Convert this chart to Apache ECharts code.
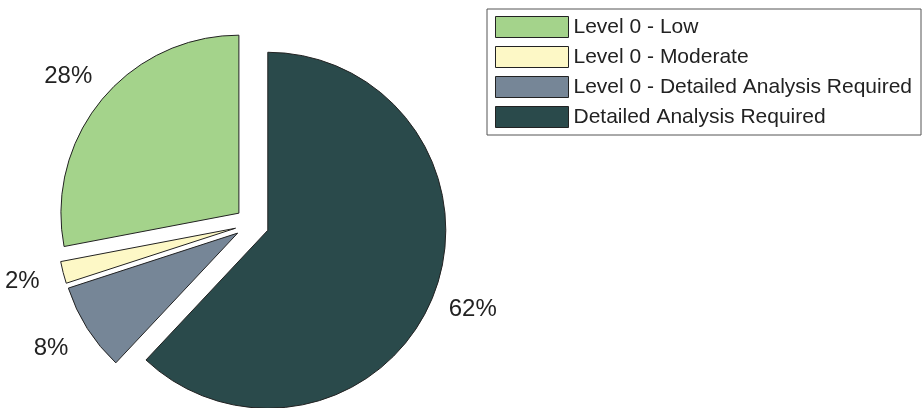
<!DOCTYPE html>
<html>
<head>
<meta charset="utf-8">
<script src="https://cdn.jsdelivr.net/npm/echarts@6/dist/echarts.min.js"></script>
<style>
html,body{margin:0;padding:0;background:#fff;}
#chart{width:922px;height:408px;}
</style>
</head>
<body>
<div id="chart"></div>
<script>
// Slices in clockwise order starting at 12 o'clock
const categories = ['Detailed Analysis Required', 'Level 0 - Detailed Analysis Required', 'Level 0 - Moderate', 'Level 0 - Low'];
const values = [62, 8, 2, 28];
const colors = ['#2a4a4b', '#768697', '#fdf8c6', '#a4d38b'];
const legendOrder = ['Level 0 - Low', 'Level 0 - Moderate', 'Level 0 - Detailed Analysis Required', 'Detailed Analysis Required'];

const chart = echarts.init(document.getElementById('chart'), null, {renderer: 'canvas'});
const data = categories.map((c, i) => ({
  name: c,
  value: values[i],
  selected: true,
  itemStyle: {color: colors[i]}
}));
chart.setOption({
  animation: false,
  textStyle: {fontFamily: 'Liberation Sans, Arial, sans-serif'},
  legend: {
    data: legendOrder,
    orient: 'vertical',
    left: 487,
    top: 9,
    padding: [7, 9, 7, 8],
    itemWidth: 73,
    itemHeight: 21,
    itemGap: 8,
    icon: 'rect',
    borderColor: '#555',
    borderWidth: 1,
    selectedMode: false,
    itemStyle: {borderColor: '#222', borderWidth: 1},
    textStyle: {fontSize: 21, color: '#222', padding: [0, 0, 0, 0]}
  },
  series: [{
    type: 'pie',
    center: [252, 224],
    radius: 178,
    startAngle: 90,
    clockwise: true,
    selectedMode: 'multiple',
    selectedOffset: 17,
    avoidLabelOverlap: false,
    itemStyle: {borderColor: '#222', borderWidth: 1},
    emphasis: {disabled: true},
    label: {
      show: true,
      position: 'outside',
      fontSize: 24,
      color: '#222',
      formatter: p => Math.round(p.percent) + '%'
    },
    labelLine: {show: false, length: 37, length2: 0},
    labelLayout: {align: 'center'},
    data: data
  }]
});
</script>
</body>
</html>
